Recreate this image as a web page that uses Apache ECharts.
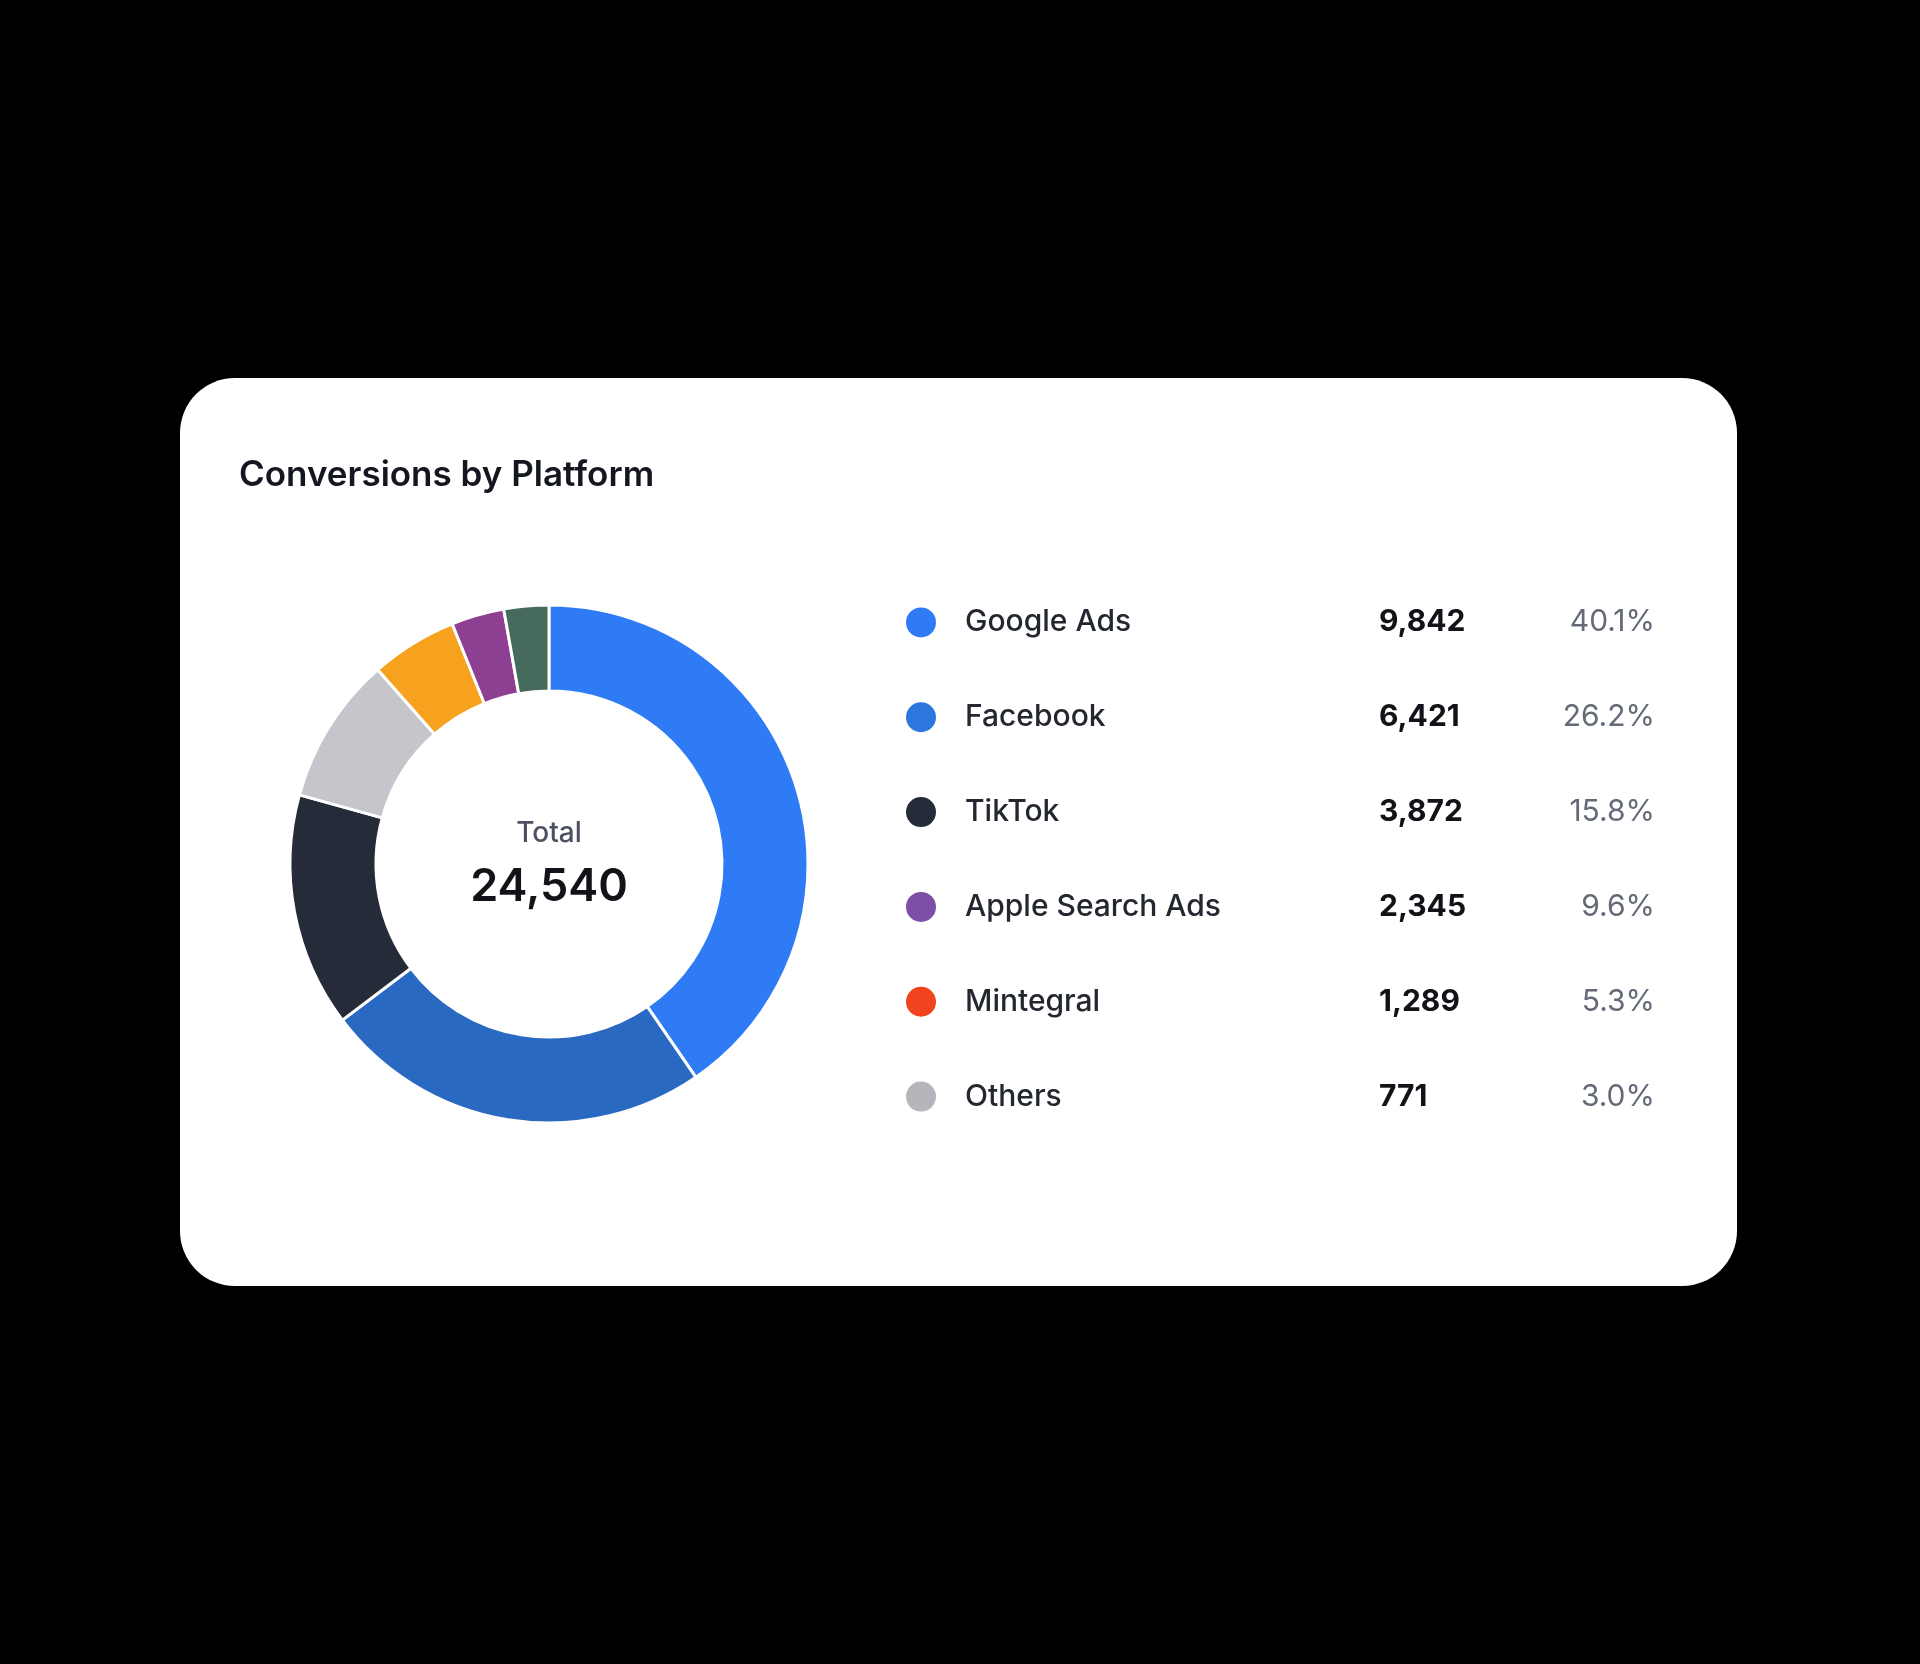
<!DOCTYPE html>
<html>
<head>
<meta charset="utf-8">
<title>Conversions by Platform</title>
<script src="https://cdn.jsdelivr.net/npm/echarts@6/dist/echarts.min.js"></script>
<style>
  html, body { margin: 0; padding: 0; background: #000; }
  #chart { width: 1920px; height: 1664px; }
</style>
</head>
<body>
<div id="chart"></div>
<script>
// legend table
var platforms = ['Google Ads', 'Facebook', 'TikTok', 'Apple Search Ads', 'Mintegral', 'Others'];
var conversions = [9842, 6421, 3872, 2345, 1289, 771];
var shareLabels = ['40.1%', '26.2%', '15.8%', '9.6%', '5.3%', '3.0%'];
var dotColors = ['#2F7BF6', '#2B77DE', '#252B38', '#7D4FA6', '#F2431F', '#B4B6BC'];

// ring segments as drawn (share of the circle, %)
var ringNames = ['Google Ads', 'Facebook', 'TikTok', 'Grey', 'Orange', 'Purple', 'Green'];
var ringShares = [40.4, 24.3, 14.6, 9.2, 5.4, 3.3, 2.8];
var ringColors = ['#2F7BF6', '#2A69C2', '#252B38', '#C4C6CB', '#F7A21E', '#8D3F92', '#466B5D'];

var font = 'Inter, "Noto Sans", sans-serif';
var total = conversions.reduce(function (a, b) { return a + b; }, 0);

function fmt(n) {
	return String(n).replace(/\B(?=(\d{3})+(?!\d))/g, ',');
}

var ringData = [];
for (var i = 0; i < ringNames.length; i++) {
	ringData.push({ name: ringNames[i], value: ringShares[i], itemStyle: { color: ringColors[i] } });
}

var rows = [];
for (var j = 0; j < platforms.length; j++) {
	rows.push({
		value: [0, platforms[j]],
		itemStyle: { color: dotColors[j], opacity: 1 },
		label: {
			formatter: '{n|' + platforms[j] + '}{v|' + fmt(conversions[j]) + '}{p|' + shareLabels[j] + '}'
		}
	});
}

var myChart = echarts.init(document.getElementById('chart'));
var option = {
	backgroundColor: '#000',
	animation: false,
	graphic: [
		{
			type: 'rect', z: -10,
			shape: { x: 180, y: 378, width: 1557, height: 908, r: 55 },
			style: { fill: '#FFFFFF' }
		},
		{
			type: 'text', z: 10,
			style: {
				text: 'Total', x: 549, y: 834, align: 'center', verticalAlign: 'middle',
				font: '500 28px ' + font, fill: '#4B5160'
			}
		},
		{
			type: 'text', z: 10,
			style: {
				text: fmt(total), x: 549, y: 887, align: 'center', verticalAlign: 'middle',
				font: '600 45px ' + font, fill: '#111318'
			}
		}
	],
	title: {
		text: 'Conversions by Platform',
		left: 234, top: 449,
		textStyle: { fontFamily: font, fontSize: 35, fontWeight: 600, color: '#14171F', lineHeight: 42 }
	},
	grid: { left: 900, width: 42, top: 575, height: 569 },
	xAxis: { type: 'value', min: -1, max: 1, show: false },
	yAxis: { type: 'category', data: platforms, inverse: true, show: false },
	series: [
		{
			type: 'pie',
			center: [549, 864],
			radius: [173, 259],
			startAngle: 90,
			clockwise: true,
			silent: true,
			label: { show: false },
			labelLine: { show: false },
			itemStyle: { borderColor: '#FFFFFF', borderWidth: 3 },
			data: ringData
		},
		{
			type: 'scatter',
			symbol: 'circle',
			symbolSize: 30,
			silent: true,
			label: {
				show: true,
				position: 'right',
				distance: 29,
				rich: {
					n: { width: 414, fontFamily: font, fontSize: 30, fontWeight: 500, color: '#23272F' },
					v: { width: 180, fontFamily: font, fontSize: 30, fontWeight: 700, color: '#111318' },
					p: { width: 96, align: 'right', fontFamily: font, fontSize: 30, fontWeight: 400, color: '#656A78' }
				}
			},
			data: rows
		}
	]
};
myChart.setOption(option);
</script>
</body>
</html>
